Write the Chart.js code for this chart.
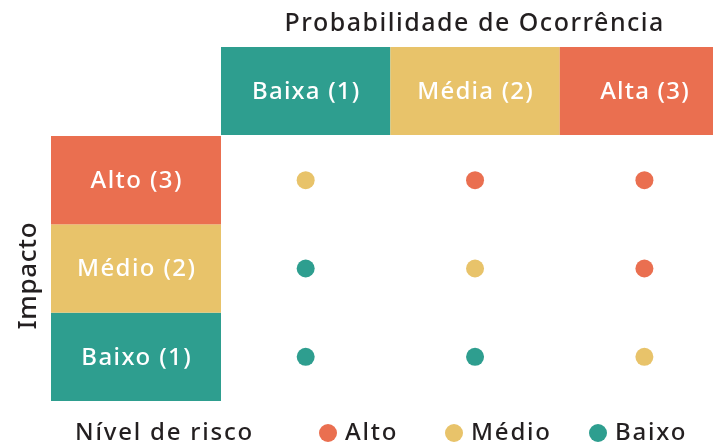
<!DOCTYPE html>
<html>
<head>
<meta charset="utf-8">
<script src="https://cdn.jsdelivr.net/npm/chart.js@4"></script>
<style>
html,body{margin:0;padding:0;background:#fff;}
#wrap{width:713px;height:445px;position:relative;}
</style>
</head>
<body>
<div id="wrap"><canvas id="c" width="713" height="445"></canvas></div>
<script>
const title = "Probabilidade de Ocorrência";
const yTitle = "Impacto";
const probLabels = ["Baixa (1)", "Média (2)", "Alta (3)"];
const impactLabels = ["Baixo (1)", "Médio (2)", "Alto (3)"];
const levelColors = ["#2E9E8F", "#E8C36A", "#EA6F50"];
const legendTitle = "Nível de risco";
const riskNames = ["Alto", "Médio", "Baixo"];
const riskColors = ["#EA6F50", "#E8C36A", "#2E9E8F"];
const altoPoints = [{x:2,y:3},{x:3,y:3},{x:3,y:2}];
const medioPoints = [{x:1,y:3},{x:2,y:2},{x:3,y:1}];
const baixoPoints = [{x:1,y:2},{x:1,y:1},{x:2,y:1}];

const FONT = "'Noto Sans', sans-serif";
const TEXT = "#231F20";

function spacedText(ctx, txt, cx, cy, spacing) {
  ctx.letterSpacing = spacing + "px";
  const w = ctx.measureText(txt).width - spacing;
  const align = ctx.textAlign;
  ctx.textAlign = "left";
  ctx.fillText(txt, cx - w / 2, cy);
  ctx.textAlign = align;
  ctx.letterSpacing = "0px";
}

const matrixPlugin = {
  id: 'matrix',
  beforeDatasetsDraw(chart) {
    const {ctx, scales:{x, y}} = chart;
    ctx.save();
    ctx.textAlign = "center"; ctx.textBaseline = "middle";
    // column headers
    for (let i = 0; i < probLabels.length; i++) {
      const l = x.getPixelForValue(i + 0.5), r = x.getPixelForValue(i + 1.5);
      const top = 47, bot = y.getPixelForValue(3.5) - 1;
      ctx.fillStyle = levelColors[i];
      ctx.fillRect(l, top, r - l, bot - top);
      ctx.fillStyle = "#fff";
      ctx.font = "500 24px " + FONT;
      spacedText(ctx, probLabels[i], (l + r) / 2, (top + bot) / 2 + 1, 1.2);
    }
    // row headers
    for (let j = 0; j < impactLabels.length; j++) {
      const t = y.getPixelForValue(j + 1.5), b = y.getPixelForValue(j + 0.5);
      const left = 51, right = x.getPixelForValue(0.5);
      ctx.fillStyle = levelColors[j];
      ctx.fillRect(left, t, right - left, b - t);
      ctx.fillStyle = "#fff";
      ctx.font = "500 24px " + FONT;
      spacedText(ctx, impactLabels[j], (left + right) / 2, (t + b) / 2 + 1, 1.4);
    }
    // title
    ctx.fillStyle = TEXT;
    ctx.font = "500 25px " + FONT;
    spacedText(ctx, title, 474, 24, 1.5);
    // y title
    ctx.save();
    ctx.translate(29, 276);
    ctx.rotate(-Math.PI / 2);
    ctx.font = "500 26px " + FONT;
    spacedText(ctx, yTitle, 0, 0, 0.6);
    ctx.restore();
    // legend
    ctx.font = "500 24px " + FONT;
    ctx.textAlign = "left";
    ctx.fillStyle = TEXT;
    ctx.letterSpacing = "1.8px";
    ctx.fillText(legendTitle, 75, 433);
    const dotX = [328, 454, 598];
    for (let k = 0; k < riskNames.length; k++) {
      ctx.beginPath();
      ctx.arc(dotX[k], 433, 9, 0, Math.PI * 2);
      ctx.fillStyle = riskColors[k];
      ctx.fill();
      ctx.fillStyle = TEXT;
      ctx.fillText(riskNames[k], dotX[k] + 17, 433);
    }
    ctx.letterSpacing = "0px";
    ctx.restore();
  }
};

new Chart(document.getElementById('c'), {
  type: 'scatter',
  data: {
    datasets: [
      {label: riskNames[0], data: altoPoints, backgroundColor: riskColors[0], borderWidth: 0, pointRadius: 9},
      {label: riskNames[1], data: medioPoints, backgroundColor: riskColors[1], borderWidth: 0, pointRadius: 9},
      {label: riskNames[2], data: baixoPoints, backgroundColor: riskColors[2], borderWidth: 0, pointRadius: 9}
    ]
  },
  options: {
    responsive: false,
    animation: false,
    layout: {autoPadding: false, padding: {left: 221, top: 136, right: 0, bottom: 44}},
    plugins: {legend: {display: false}, tooltip: {enabled: false}},
    scales: {
      x: {type: 'linear', min: 0.5, max: 3.405, display: false},
      y: {type: 'linear', min: 0.5, max: 3.5, display: false}
    }
  },
  plugins: [matrixPlugin]
});
</script>
</body>
</html>
